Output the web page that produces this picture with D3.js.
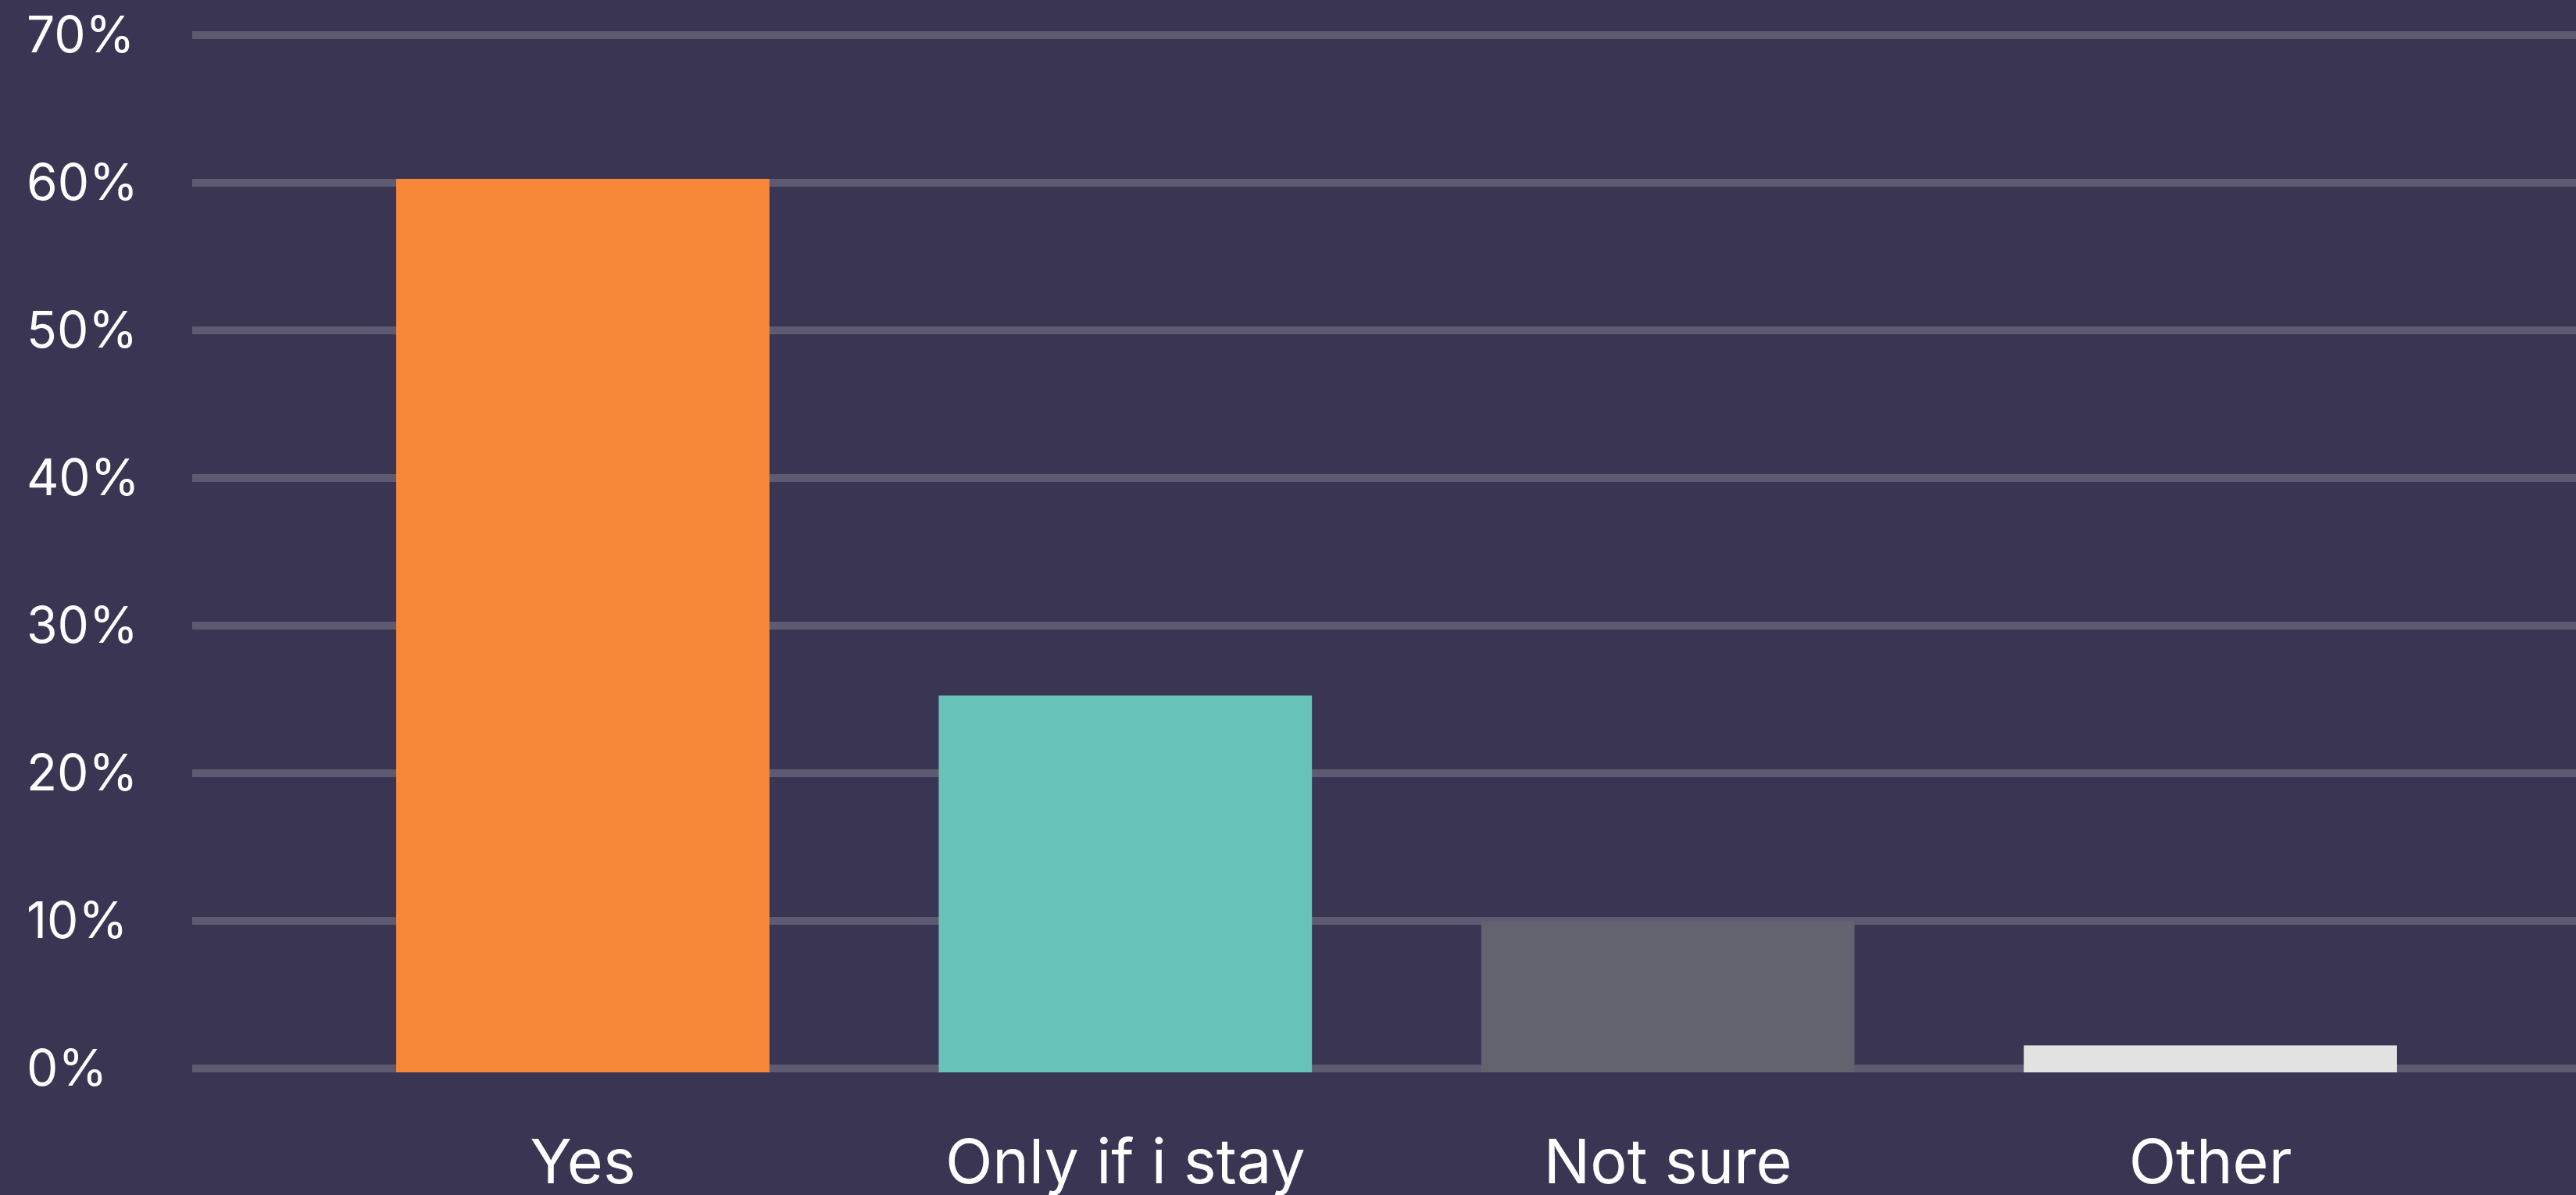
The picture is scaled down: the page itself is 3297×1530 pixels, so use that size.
<!DOCTYPE html>
<html>
<head>
<meta charset="utf-8">
<script src="https://cdn.jsdelivr.net/npm/d3@7"></script>
<style>
  html, body { margin: 0; padding: 0; background: #3a3553; overflow: hidden; }
  text { font-family: Inter, "Noto Sans", sans-serif; fill: #ffffff; }
</style>
</head>
<body>
<div id="chart"></div>
<script>
// data
var categories = ["Yes", "Only if i stay", "Not sure", "Other"];
var values = [60, 25, 9.7, 1.3];
var barColors = ["#f7883a", "#67c3b8", "#63626f", "#e2e2e2"];
var yTicks = [0, 10, 20, 30, 40, 50, 60, 70];

var width = 3297,
    height = 1530,
    gridLeft = 246,
    gridWidth = 10;

var svg = d3.select("#chart").append("svg")
    .attr("width", width)
    .attr("height", height);

svg.append("rect")
    .attr("width", width)
    .attr("height", height)
    .attr("fill", "#3a3553");

var x = d3.scaleBand()
    .domain(categories)
    .range([gridLeft, 3329])
    .paddingInner(0.312)
    .paddingOuter(0.376);

var y = d3.scaleLinear()
    .domain([0, 70])
    .range([1368, 45]);

// grid lines
svg.append("g").selectAll("line")
    .data(yTicks)
    .enter().append("line")
    .attr("x1", gridLeft)
    .attr("x2", width)
    .attr("y1", function(d) { return y(d); })
    .attr("y2", function(d) { return y(d); })
    .attr("stroke", "#5e5a72")
    .attr("stroke-width", gridWidth);

// y labels
svg.append("g").selectAll("text")
    .data(yTicks)
    .enter().append("text")
    .attr("x", 34)
    .attr("y", function(d) { return y(d); })
    .attr("dy", "0.35em")
    .style("font-size", "64px")
    .text(function(d) { return d + "%"; });

// bars
var data = categories.map(function(c, i) { return { cat: c, value: values[i], color: barColors[i] }; });

svg.append("g").selectAll("rect")
    .data(data)
    .enter().append("rect")
    .attr("x", function(d) { return x(d.cat); })
    .attr("width", x.bandwidth())
    .attr("y", function(d) { return y(d.value) - gridWidth / 2; })
    .attr("height", function(d) { return y(0) - y(d.value) + gridWidth; })
    .attr("fill", function(d) { return d.color; });

// x labels
svg.append("g").selectAll("text")
    .data(categories)
    .enter().append("text")
    .attr("x", function(d) { return x(d) + x.bandwidth() / 2; })
    .attr("y", 1515)
    .attr("text-anchor", "middle")
    .style("font-size", "79px")
    .text(function(d) { return d; });
</script>
</body>
</html>
